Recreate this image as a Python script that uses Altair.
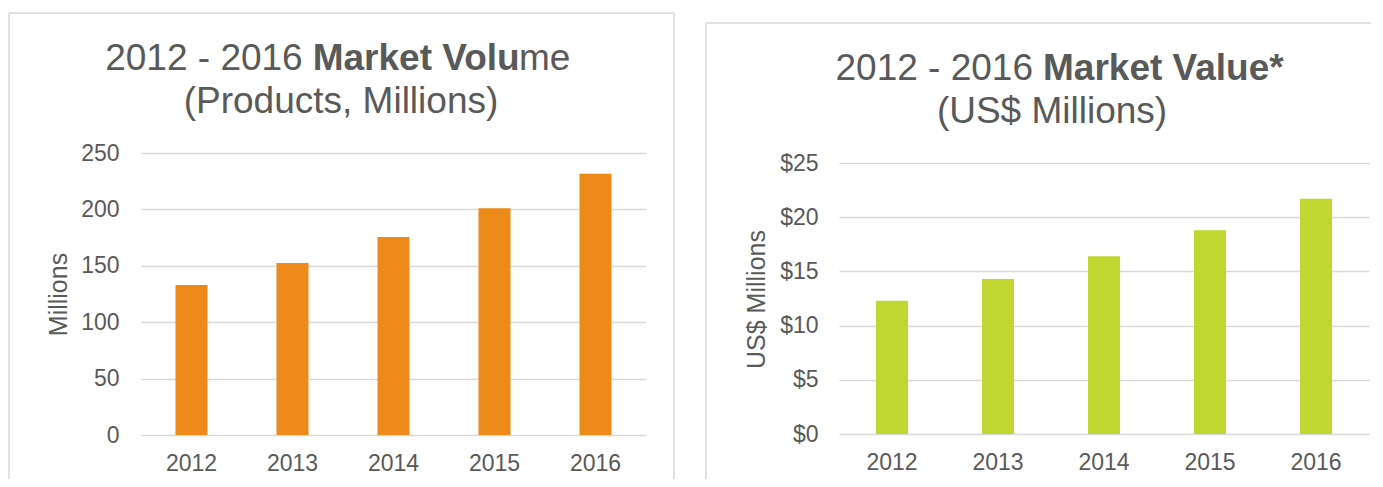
import altair as alt
import pandas as pd

# ---- data ----
years = ["2012", "2013", "2014", "2015", "2016"]
volume_millions = [133, 152.5, 175.5, 201, 231.5]
value_usd_millions = [12.3, 14.3, 16.4, 18.8, 21.7]
volume_ticks = [0, 50, 100, 150, 200, 250]
value_ticks = [0, 5, 10, 15, 20, 25]

FONT = "Liberation Sans"
GRAY = "#595959"
GRID = "#D9D9D9"
ORANGE = "#EE8A19"
GREEN = "#C0D731"


def one_row():
    return alt.Data(values=[{"k": 0}])


def txt(s, x, y, align, bold=False, size=37):
    return alt.Chart(one_row()).mark_text(
        text=s, align=align, baseline="alphabetic", font=FONT, fontSize=size,
        fontWeight="bold" if bold else "normal", color=GRAY
    ).encode(x=alt.value(x), y=alt.value(y))


def rule(x1, x2, y1, y2):
    return alt.Chart(one_row()).mark_rule(color=GRID, strokeWidth=1.5).encode(
        x=alt.value(x1), x2=alt.value(x2), y=alt.value(y1), y2=alt.value(y2)
    )


def x_axis():
    return alt.Axis(title=None, labelAngle=0, labelPadding=17, ticks=False,
                    domain=False, grid=False)


# ---- left panel: volume ----
vol_df = pd.DataFrame({"year": years, "volume": volume_millions})
bars_l = alt.Chart(vol_df).mark_bar(color=ORANGE).encode(
    x=alt.X("year:N", sort=years,
            scale=alt.Scale(paddingInner=0.683, paddingOuter=0.3415),
            axis=x_axis()),
    y=alt.Y("volume:Q", scale=alt.Scale(domain=[0, 250], nice=False),
            axis=alt.Axis(values=volume_ticks, title="Millions", titleX=-83,
                          titleY=141, titleAngle=-90, titleAlign="center",
                          titleBaseline="middle", labelPadding=22,
                          ticks=False, domain=False)),
)
left = alt.layer(
    rule(-132, -132, -140, 326), rule(-132, 533, -140, -140), rule(533, 533, -140, 326),
    bars_l,
    txt("2012 - 2016", 161.7, -83, "right"),
    txt("Market Volu", 171.7, -83, "left", bold=True),
    txt("me", 378, -83, "left"),
    txt("(Products, Millions)", 200, -40, "center"),
).properties(width=505, height=282)

# ---- right panel: value ----
val_df = pd.DataFrame({"year": years, "value": value_usd_millions})
bars_r = alt.Chart(val_df).mark_bar(color=GREEN).encode(
    x=alt.X("year:N", sort=years,
            scale=alt.Scale(paddingInner=0.698, paddingOuter=0.349),
            axis=x_axis()),
    y=alt.Y("value:Q", scale=alt.Scale(domain=[0, 25], nice=False, range=[281, 10]),
            axis=alt.Axis(values=value_ticks, labelExpr="'$' + datum.value",
                          title="US$ Millions", titleX=-83, titleY=146,
                          titleAngle=-90, titleAlign="center",
                          titleBaseline="middle", labelPadding=21,
                          ticks=False, domain=False)),
)
right = alt.layer(
    rule(-133, -133, -130, 326), rule(-133, 532, -130, -130),
    bars_r,
    txt("2012 - 2016", 194, -73, "right"),
    txt("Market Value*", 204, -73, "left", bold=True),
    txt("(US$ Millions)", 213, -30, "center"),
).properties(width=530, height=281)

chart = alt.hconcat(left, right, spacing=193, bounds="flush").properties(
    padding={"left": 0, "top": 4, "right": 0, "bottom": 0}
).configure_view(strokeWidth=0).configure_axis(
    labelFont=FONT, labelFontSize=23, labelColor=GRAY,
    titleFont=FONT, titleFontSize=25, titleColor=GRAY, titleFontWeight="normal",
    gridColor=GRID, gridWidth=1.5,
)

chart.save("out.html", embed_options={"renderer": "svg", "actions": False})
